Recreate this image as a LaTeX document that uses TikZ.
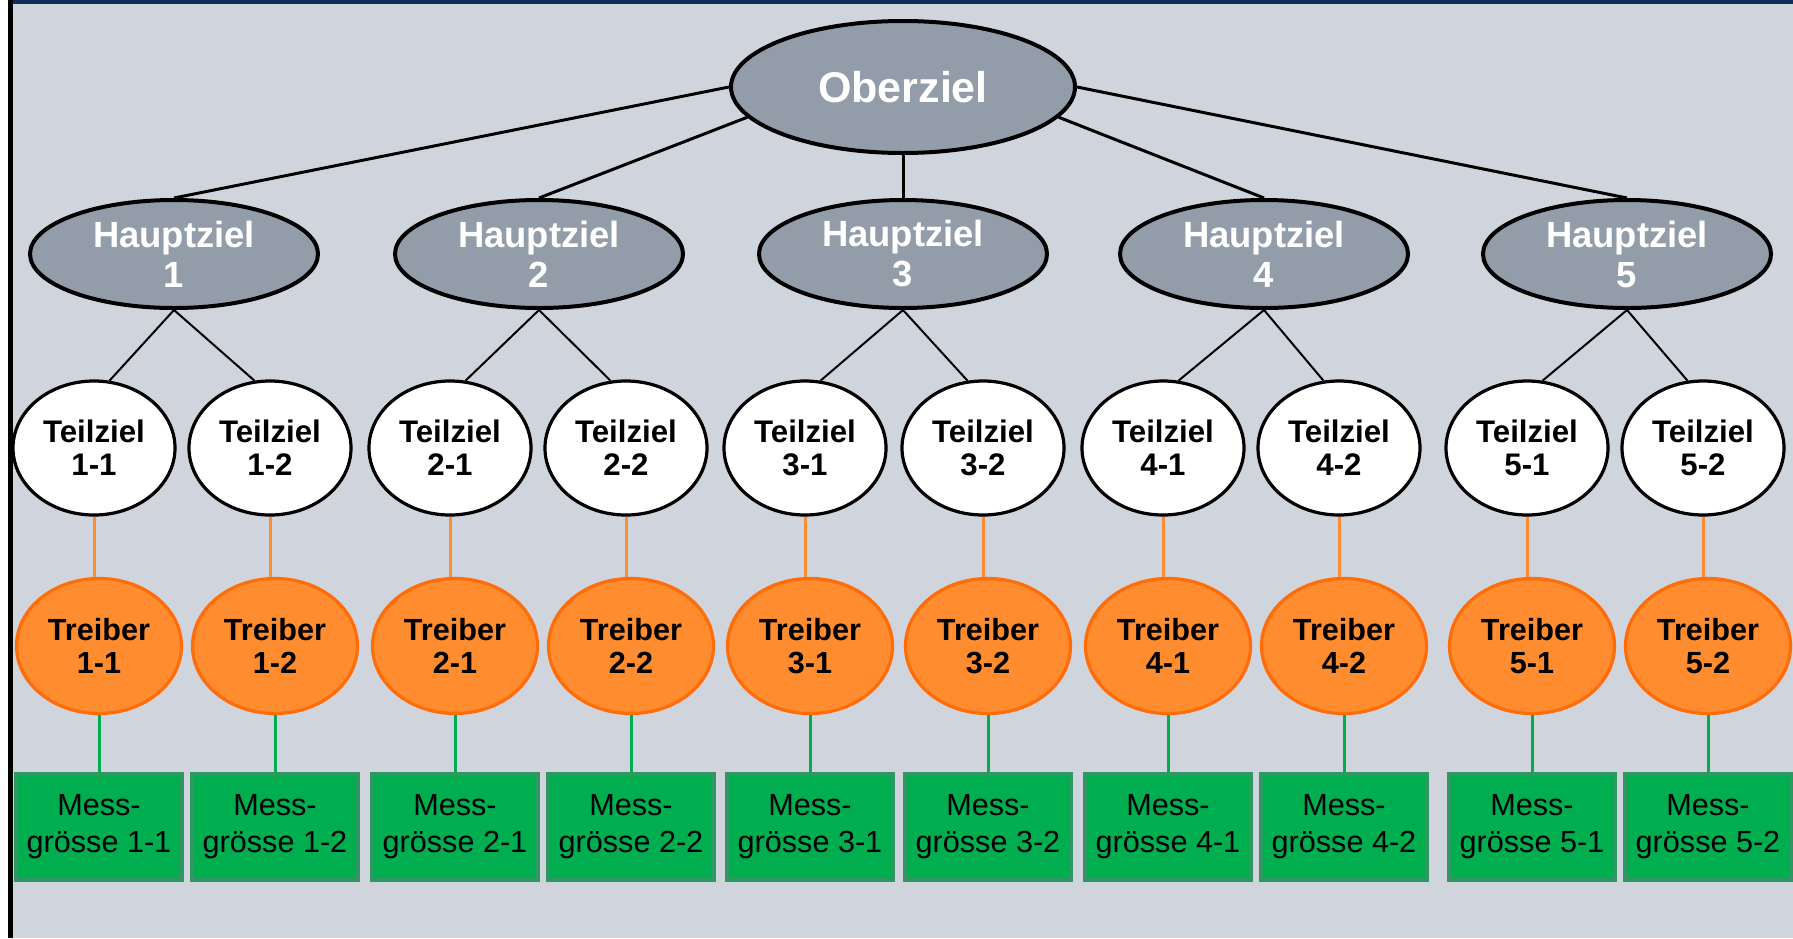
\documentclass[tikz,border=0pt]{standalone}
\usepackage{fontspec}
\setmainfont{Liberation Sans}
\usepackage{tikz}
\usetikzlibrary{shapes.geometric}

\definecolor{hintergrund}{RGB}{208,212,220}
\definecolor{zielgrau}{RGB}{147,157,170}
\definecolor{rahmenblau}{RGB}{16,46,90}
\definecolor{treiberfill}{RGB}{255,140,46}
\definecolor{treiberrand}{RGB}{255,108,8}
\definecolor{messfill}{RGB}{0,174,80}
\definecolor{messrand}{RGB}{48,150,98}

\begin{document}
\begin{tikzpicture}[x=0.5pt,y=-0.5pt,
        ober/.style = {ellipse, draw=black, line width=2pt, fill=zielgrau, text=white, align=center, inner sep=0pt,
            minimum width=172pt, minimum height=66pt, font=\bfseries\fontsize{21.5}{24}\selectfont},
        haupt/.style = {ellipse, draw=black, line width=2pt, fill=zielgrau, text=white, align=center, inner sep=0pt,
            minimum width=144pt, minimum height=54pt, font=\bfseries\fontsize{18.2}{20}\selectfont},
        teil/.style = {ellipse, draw=black, line width=1.6pt, fill=white, align=center, inner sep=0pt,
            minimum width=81pt, minimum height=67pt, font=\bfseries\fontsize{15.6}{16.5}\selectfont},
        treiber/.style = {ellipse, draw=treiberrand, line width=1.6pt, fill=treiberfill, align=center, inner sep=0pt,
            minimum width=82.5pt, minimum height=67.5pt, font=\bfseries\fontsize{15.3}{16.5}\selectfont},
        mess/.style = {rectangle, draw=messrand, line width=1.6pt, fill=messfill, align=center, inner sep=0pt,
            minimum width=83pt, minimum height=53pt, font=\fontsize{15.3}{18.5}\selectfont},
        linie/.style = {draw=black, line width=1.5pt},
        ast/.style = {draw=black, line width=1pt},
        orangelinie/.style = {draw=treiberfill, line width=1.5pt},
        gruenlinie/.style = {draw=messfill, line width=1.5pt},
    ]
    \useasboundingbox (0,0) rectangle (1793,938);
    % Hintergrund und Rahmen
    \fill[hintergrund] (8,0) rectangle (1793,938);
    \draw[rahmenblau, line width=2pt] (8,2) -- (1793,2);
    \draw[black, line width=2.5pt] (10.5,0) -- (10.5,938);
    % Oberziel
    \node[ober] (o) at (903,87) {Oberziel};
    % Hauptziele, Teilziele, Treiber und Messgroessen
    \foreach \i/\hx/\ax/\bx/\oa in {1/174/97/273/west, 2/539/453/629/191, 3/903/808/986/south,
                                    4/1264/1166/1342/349, 5/1627/1530/1706/east} {
        \node[haupt] (h\i) at (\hx,254) {Hauptziel\\\i};
        \draw[linie] (o.\oa) -- (h\i.north);
        \foreach \j/\x/\wa in {1/\ax/77, 2/\bx/103} {
            \node[teil] (t\i\j) at (\x-3,448) {Teilziel\\\i-\j};
            \node[treiber] (d\i\j) at (\x+2,646) {Treiber\\\i-\j};
            \node[mess] (m\i\j) at (\x+2,827) {Mess-\\grösse \i-\j};
            \draw[ast] (h\i.south) -- (t\i\j.\wa);
            \draw[orangelinie] (t\i\j.south) -- (t\i\j.south |- d\i\j.north);
            \draw[gruenlinie] (d\i\j.south) -- (m\i\j.north);
        }
    }
\end{tikzpicture}
\end{document}
